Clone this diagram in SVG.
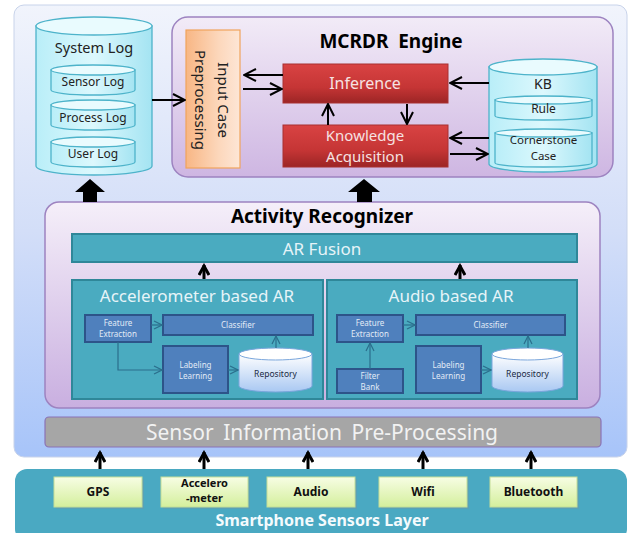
<svg xmlns="http://www.w3.org/2000/svg" width="634" height="533" viewBox="0 0 634 533">
<defs>
<linearGradient id="gOuter" x1="0" y1="0" x2="0" y2="1"><stop offset="0" stop-color="#f1f4fc"/><stop offset="0.5" stop-color="#d3def8"/><stop offset="1" stop-color="#a7c4f9"/></linearGradient>
<linearGradient id="gPurple" x1="0" y1="0" x2="0" y2="1"><stop offset="0" stop-color="#f2ebf7"/><stop offset="1" stop-color="#ceb6e2"/></linearGradient>
<linearGradient id="gAR" x1="0" y1="0" x2="0" y2="1"><stop offset="0" stop-color="#f5eff9"/><stop offset="1" stop-color="#c9afe0"/></linearGradient>
<linearGradient id="gOrange" x1="0" y1="0" x2="1" y2="0"><stop offset="0" stop-color="#f8b684"/><stop offset="0.6" stop-color="#fcd7bb"/><stop offset="1" stop-color="#fde6d6"/></linearGradient>
<linearGradient id="gRed" x1="0" y1="0" x2="0" y2="1"><stop offset="0" stop-color="#d94343"/><stop offset="0.6" stop-color="#c53535"/><stop offset="1" stop-color="#9c2525"/></linearGradient>
<linearGradient id="gCyl" x1="0" y1="0" x2="1" y2="0"><stop offset="0" stop-color="#b9eef8"/><stop offset="0.5" stop-color="#dcf8fd"/><stop offset="1" stop-color="#a4e4f2"/></linearGradient>
<linearGradient id="gRepo" x1="0" y1="0" x2="0" y2="1"><stop offset="0" stop-color="#ffffff"/><stop offset="1" stop-color="#a9c8f2"/></linearGradient>
<linearGradient id="gSensor" x1="0" y1="0" x2="0" y2="1"><stop offset="0" stop-color="#f7fde4"/><stop offset="1" stop-color="#d4ef9c"/></linearGradient>
<marker id="aBlk" viewBox="0 0 14 14" refX="13" refY="7" markerWidth="14" markerHeight="14" markerUnits="userSpaceOnUse" orient="auto"><path d="M1,1 L13,7 L1,13" fill="none" stroke="#000" stroke-width="2"/></marker>
<marker id="aUp" viewBox="0 0 14 12" refX="12" refY="6" markerWidth="14" markerHeight="12" markerUnits="userSpaceOnUse" orient="auto"><path d="M2,1 L11,6 L2,11" fill="none" stroke="#000" stroke-width="3"/></marker>
<marker id="aTeal" viewBox="0 0 10 10" refX="9" refY="5" markerWidth="10" markerHeight="10" markerUnits="userSpaceOnUse" orient="auto"><path d="M1,1 L9,5 L1,9" fill="none" stroke="#2b6e8c" stroke-width="1.2"/></marker>
</defs>
<style>
.t{font-family:"Noto Sans","Open Sans","DejaVu Sans",sans-serif;text-anchor:middle}
.cyl{fill:url(#gCyl);stroke:#4db3ca;stroke-width:1.3}
.cyltop{fill:#e9fbfe;stroke:#4db3ca;stroke-width:1.3}
.red{fill:url(#gRed);stroke:#a83030;stroke-width:1}
.teal{fill:#4aabc0;stroke:#2f8799;stroke-width:2}
.blue{fill:#4f80bd;stroke:#2d5489;stroke-width:2}
.repo{fill:url(#gRepo);stroke:#7aa6dc;stroke-width:1}
.sm{font-size:8px;fill:#e2ebf6}
.sens{fill:url(#gSensor);stroke:#c4de98;stroke-width:1}
.shadow{fill:#6a9aa8;opacity:0.5}
.conn{fill:none;stroke:#000;stroke-width:2}
.tconn{fill:none;stroke:#2b6e8c;stroke-width:1.2}
.up{fill:none;stroke:#000;stroke-width:3}
</style>

<g id="outer-panel"><rect x="14" y="5" width="613" height="452" rx="10" fill="url(#gOuter)" stroke="#c8d3ea" stroke-width="1"/></g>

<g id="system-log">
<path d="M36,26 L36,166 A58,9 0 0 0 152,166 L152,26 Z" class="cyl"/>
<ellipse cx="94" cy="26" rx="58" ry="9" class="cyltop"/>
<text class="t" x="94" y="53" font-size="14.5" fill="#222">System Log</text>
</g>
<g id="sensor-log">
<path d="M51,70 L51,90 A42,5 0 0 0 135,90 L135,70 Z" class="cyl"/>
<ellipse cx="93" cy="70" rx="42" ry="5" class="cyltop"/>
<text class="t" x="93" y="86" font-size="12" fill="#222">Sensor Log</text>
</g>
<g id="process-log">
<path d="M51,105 L51,125 A42,5 0 0 0 135,125 L135,105 Z" class="cyl"/>
<ellipse cx="93" cy="105" rx="42" ry="5" class="cyltop"/>
<text class="t" x="93" y="122" font-size="12" fill="#222">Process Log</text>
</g>
<g id="user-log">
<path d="M51,142 L51,162 A42,5 0 0 0 135,162 L135,142 Z" class="cyl"/>
<ellipse cx="93" cy="142" rx="42" ry="5" class="cyltop"/>
<text class="t" x="93" y="158" font-size="12" fill="#222">User Log</text>
</g>

<g id="mcrdr-engine">
<rect x="172" y="17" width="441" height="160" rx="16" fill="url(#gPurple)" stroke="#9d83c0" stroke-width="1.5"/>
<text class="t" x="391" y="48" font-size="19" font-weight="bold" fill="#000" xml:space="preserve">MCRDR  Engine</text>
</g>
<g id="input-case">
<rect x="186" y="30" width="54" height="138" fill="url(#gOrange)" stroke="#f0a35c" stroke-width="1.2"/>
<text class="t" font-size="15" fill="#222" transform="translate(218,100) rotate(90)">Input Case</text>
<text class="t" font-size="15" fill="#222" transform="translate(195,100) rotate(90)">Preprocessing</text>
</g>
<g id="inference">
<rect x="283" y="64" width="165" height="39" class="red"/>
<text class="t" x="365" y="89" font-size="16" fill="#f6e2e2">Inference</text>
</g>
<g id="knowledge-acquisition">
<rect x="283" y="125" width="165" height="42" class="red"/>
<text class="t" x="365" y="141" font-size="15" fill="#f6e2e2">Knowledge</text>
<text class="t" x="365" y="162" font-size="15" fill="#f6e2e2">Acquisition</text>
</g>
<g id="kb">
<path d="M489,67 L489,164 A54,8 0 0 0 597,164 L597,67 Z" class="cyl"/>
<ellipse cx="543" cy="67" rx="54" ry="8" class="cyltop"/>
<text class="t" x="543" y="89" font-size="14" fill="#222">KB</text>
</g>
<g id="rule">
<path d="M495,100 L495,116 A48.5,4 0 0 0 592,116 L592,100 Z" class="cyl"/>
<ellipse cx="543.5" cy="100" rx="48.5" ry="4" class="cyltop"/>
<text class="t" x="543.5" y="113" font-size="12" fill="#222">Rule</text>
</g>
<g id="cornerstone-case">
<path d="M495,133 L495,163 A48.5,4 0 0 0 592,163 L592,133 Z" class="cyl"/>
<ellipse cx="543.5" cy="133" rx="48.5" ry="4" class="cyltop"/>
<text class="t" x="543.5" y="144" font-size="11.5" fill="#222">Cornerstone</text>
<text class="t" x="543.5" y="160" font-size="11.5" fill="#222">Case</text>
</g>

<g id="activity-recognizer">
<rect x="45" y="202" width="555" height="206" rx="14" fill="url(#gAR)" stroke="#9d83c0" stroke-width="1.5"/>
<text class="t" x="322" y="223" font-size="19" font-weight="bold" fill="#000">Activity Recognizer</text>
</g>
<g id="ar-fusion">
<rect x="72" y="234" width="505" height="28" class="teal"/>
<text class="t" x="322" y="255" font-size="17" fill="#e6f4f8">AR Fusion</text>
</g>
<g id="acc-ar">
<rect x="72" y="280" width="251" height="119" class="teal"/>
<text class="t" x="197" y="302" font-size="17" fill="#e6f4f8">Accelerometer based AR</text>
</g>
<g id="acc-feature"><rect x="85" y="315" width="66" height="27" class="blue"/><text class="t sm" x="118" y="326">Feature</text><text class="t sm" x="118" y="337">Extraction</text></g>
<g id="acc-classifier"><rect x="163" y="315" width="150" height="20" class="blue"/><text class="t sm" x="238" y="328">Classifier</text></g>
<g id="acc-labeling"><rect x="163" y="346" width="65" height="47" class="blue"/><text class="t sm" x="195.5" y="368">Labeling</text><text class="t sm" x="195.5" y="379">Learning</text></g>
<g id="acc-repository">
<path d="M239,354 L239,386 A36.5,6 0 0 0 312,386 L312,354 Z" class="repo"/>
<ellipse cx="275.5" cy="354" rx="36.5" ry="6" fill="#fff" stroke="#7aa6dc" stroke-width="1"/>
<text class="t" x="275.5" y="377" font-size="8.5" fill="#1a2a44">Repository</text>
</g>
<g id="audio-ar">
<rect x="327" y="280" width="250" height="119" class="teal"/>
<text class="t" x="451" y="302" font-size="17" fill="#e6f4f8">Audio based AR</text>
</g>
<g id="aud-feature"><rect x="337" y="315" width="66" height="27" class="blue"/><text class="t sm" x="370" y="326">Feature</text><text class="t sm" x="370" y="337">Extraction</text></g>
<g id="aud-classifier"><rect x="416" y="315" width="149" height="20" class="blue"/><text class="t sm" x="490.5" y="328">Classifier</text></g>
<g id="aud-filter"><rect x="337" y="369" width="66" height="24" class="blue"/><text class="t sm" x="370" y="379">Filter</text><text class="t sm" x="370" y="390">Bank</text></g>
<g id="aud-labeling"><rect x="416" y="346" width="65" height="47" class="blue"/><text class="t sm" x="448.5" y="368">Labeling</text><text class="t sm" x="448.5" y="379">Learning</text></g>
<g id="aud-repository">
<path d="M492,354 L492,386 A35.5,6 0 0 0 563,386 L563,354 Z" class="repo"/>
<ellipse cx="527.5" cy="354" rx="35.5" ry="6" fill="#fff" stroke="#7aa6dc" stroke-width="1"/>
<text class="t" x="527.5" y="377" font-size="8.5" fill="#1a2a44">Repository</text>
</g>

<g id="sensor-preprocessing">
<rect x="45" y="417" width="556" height="30" rx="4" fill="#a6a6a6" stroke="#8a72b6" stroke-width="1.2"/>
<text class="t" x="322" y="440" font-size="21" fill="#f2f2f2" word-spacing="4">Sensor Information Pre-Processing</text>
</g>

<g id="smartphone-layer">
<rect x="15" y="469" width="612" height="72" rx="12" fill="#4aa9c2"/>
<text class="t" x="322" y="526" font-size="16" font-weight="bold" fill="#f4fbfd">Smartphone Sensors Layer</text>
</g>
<g id="gps"><rect x="56" y="479" width="88" height="30" class="shadow"/><rect x="54" y="477" width="88" height="30" class="sens"/><text class="t" x="98" y="496" font-size="12" font-weight="bold" fill="#111">GPS</text></g>
<g id="accelerometer"><rect x="163" y="479" width="87" height="30" class="shadow"/><rect x="161" y="477" width="87" height="30" class="sens"/><text class="t" x="204.5" y="487" font-size="11" font-weight="bold" fill="#111">Accelero</text><text class="t" x="204.5" y="502" font-size="11" font-weight="bold" fill="#111">-meter</text></g>
<g id="audio"><rect x="269" y="479" width="88" height="30" class="shadow"/><rect x="267" y="477" width="88" height="30" class="sens"/><text class="t" x="311" y="496" font-size="12" font-weight="bold" fill="#111">Audio</text></g>
<g id="wifi"><rect x="381" y="479" width="88" height="30" class="shadow"/><rect x="379" y="477" width="88" height="30" class="sens"/><text class="t" x="423" y="496" font-size="12" font-weight="bold" fill="#111">Wifi</text></g>
<g id="bluetooth"><rect x="492" y="479" width="87" height="30" class="shadow"/><rect x="490" y="477" width="87" height="30" class="sens"/><text class="t" x="533.5" y="496" font-size="12" font-weight="bold" fill="#111">Bluetooth</text></g>

<g id="connectors">
<line x1="152" y1="100" x2="185" y2="100" class="conn" marker-end="url(#aBlk)"/>
<line x1="283" y1="75" x2="244" y2="75" class="conn" marker-end="url(#aBlk)"/>
<line x1="243" y1="89" x2="282" y2="89" class="conn" marker-end="url(#aBlk)"/>
<line x1="328" y1="125" x2="328" y2="104" class="conn" marker-end="url(#aBlk)"/>
<line x1="407" y1="104" x2="407" y2="124" class="conn" marker-end="url(#aBlk)"/>
<line x1="489" y1="83" x2="450" y2="83" class="conn" marker-end="url(#aBlk)"/>
<line x1="489" y1="138" x2="450" y2="138" class="conn" marker-end="url(#aBlk)"/>
<line x1="450" y1="154" x2="488" y2="154" class="conn" marker-end="url(#aBlk)"/>
<polygon points="90,179 105,192 97,192 97,202 83,202 83,192 75,192" fill="#000"/>
<polygon points="364,179 380,192 372,192 372,202 357,202 357,192 348,192" fill="#000"/>
<line x1="204" y1="279" x2="204" y2="265" class="up" marker-end="url(#aUp)"/>
<line x1="460" y1="279" x2="460" y2="265" class="up" marker-end="url(#aUp)"/>
<line x1="151" y1="325" x2="162" y2="325" class="tconn" marker-end="url(#aTeal)"/>
<polyline points="118,342 118,370 162,370" class="tconn" marker-end="url(#aTeal)"/>
<line x1="228" y1="370" x2="238" y2="370" class="tconn" marker-end="url(#aTeal)"/>
<line x1="276" y1="348" x2="276" y2="336" class="tconn" marker-end="url(#aTeal)"/>
<line x1="403" y1="325" x2="415" y2="325" class="tconn" marker-end="url(#aTeal)"/>
<line x1="370" y1="369" x2="370" y2="343" class="tconn" marker-end="url(#aTeal)"/>
<line x1="481" y1="370" x2="491" y2="370" class="tconn" marker-end="url(#aTeal)"/>
<line x1="528" y1="348" x2="528" y2="336" class="tconn" marker-end="url(#aTeal)"/>
<line x1="100" y1="469" x2="100" y2="452" class="up" marker-end="url(#aUp)"/>
<line x1="204" y1="469" x2="204" y2="452" class="up" marker-end="url(#aUp)"/>
<line x1="308" y1="469" x2="308" y2="452" class="up" marker-end="url(#aUp)"/>
<line x1="423" y1="469" x2="423" y2="452" class="up" marker-end="url(#aUp)"/>
<line x1="531" y1="469" x2="531" y2="452" class="up" marker-end="url(#aUp)"/>
</g>
</svg>
